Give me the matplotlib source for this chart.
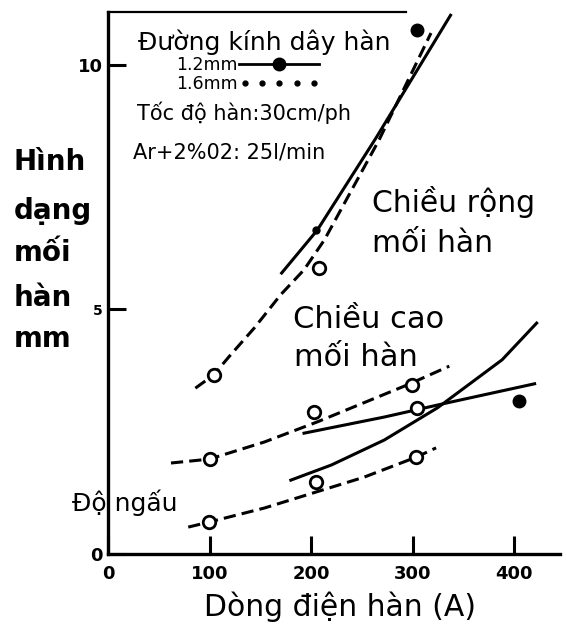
import matplotlib
matplotlib.use("Agg")
import matplotlib.pyplot as plt
from matplotlib.lines import Line2D
from matplotlib.legend_handler import HandlerLine2D

plt.rcParams['font.family'] = ['DejaVu Sans']

# ---- data (welding current A -> mm) ----
width_12_x = [170, 206, 264, 338]
width_12_y = [5.72, 6.62, 8.51, 11.04]
width_16_x = [86, 104, 119, 144, 170, 193, 213, 267, 318]
width_16_y = [3.39, 3.66, 4.03, 4.62, 5.30, 5.81, 6.42, 8.47, 10.65]

height_12_x = [193, 272, 334, 420]
height_12_y = [2.47, 2.80, 3.09, 3.48]
height_16_x = [62, 100, 154, 206, 295, 336]
height_16_y = [1.86, 1.94, 2.29, 2.70, 3.46, 3.84]

depth_12_x = [180, 220, 272, 324.5, 388, 422]
depth_12_y = [1.51, 1.82, 2.33, 2.99, 3.97, 4.72]
depth_16_x = [79, 99, 154, 252, 303.5, 323]
depth_16_y = [0.55, 0.65, 0.94, 1.57, 1.98, 2.17]

open_pts_x = [104, 208, 100, 203, 299.5, 304.5, 99, 205, 303.5]
open_pts_y = [3.66, 5.85, 1.94, 2.90, 3.46, 2.98, 0.65, 1.47, 1.98]
filled_pts_x = [304.5, 405]
filled_pts_y = [10.72, 3.13]
small_filled_x = [205]
small_filled_y = [6.63]

x_ticks = [0, 100, 200, 300, 400]
y_ticks = [0, 5, 10]

W, H = 567, 625
fig = plt.figure(figsize=(W / 100, H / 100), dpi=100)
ax = fig.add_axes([108 / W, 71 / H, (560 - 108) / W, 542 / H])
ax.set_xlim(0, 445)
ax.set_ylim(0, 11.08)

LW = 2.2
dash = (4, 2)
ax.plot(width_12_x, width_12_y, color='k', lw=LW, solid_capstyle='butt')
ax.plot(width_16_x, width_16_y, color='k', lw=LW, linestyle=(0, dash))
ax.plot(height_12_x, height_12_y, color='k', lw=LW)
ax.plot(height_16_x, height_16_y, color='k', lw=LW, linestyle=(0, dash))
ax.plot(depth_12_x, depth_12_y, color='k', lw=LW)
ax.plot(depth_16_x, depth_16_y, color='k', lw=LW, linestyle=(0, dash))

ax.plot(open_pts_x, open_pts_y, linestyle='none', marker='o', markersize=9,
        markerfacecolor='white', markeredgecolor='k', markeredgewidth=2)
ax.plot(filled_pts_x, filled_pts_y, linestyle='none', marker='o', markersize=9,
        color='k')
ax.plot(small_filled_x, small_filled_y, linestyle='none', marker='o', markersize=5,
        color='k')

# spines
ax.spines['right'].set_visible(False)
ax.spines['left'].set_linewidth(2.4)
ax.spines['bottom'].set_linewidth(2.4)
ax.spines['top'].set_linewidth(1.6)
ax.spines['top'].set_bounds(0, 293)

ax.set_xticks(x_ticks)
ax.set_yticks(y_ticks)
ax.set_xticklabels([str(v) for v in x_ticks], fontsize=13, fontweight='bold')
ax.set_yticklabels([str(v) for v in y_ticks], fontsize=13, fontweight='bold')
ax.tick_params(axis='both', direction='in', length=13, width=2.2, pad=4)
ax.tick_params(axis='x', pad=8)
ax.get_yticklabels()[1].set_fontsize(10)


def px(x, y):
    return x / W, 1 - y / H

# y-axis label, one word per line
for word, yy in [("Hình", 162), ("dạng", 211), ("mối", 253), ("hàn", 298), ("mm", 339)]:
    fig.text(*px(14, yy), word, fontsize=20, fontweight='bold', ha='left', va='center')

fig.text(*px(340, 607), "Dòng điện hàn (A)", fontsize=21.5, ha='center', va='center')

fig.text(*px(372, 202), "Chiều rộng", fontsize=21.5, ha='left', va='center')
fig.text(*px(372, 243), "mối hàn", fontsize=21.5, ha='left', va='center')
fig.text(*px(293, 320), "Chiều cao", fontsize=22, ha='left', va='center')
fig.text(*px(294, 358), "mối hàn", fontsize=22, ha='left', va='center')
fig.text(*px(72, 503), "Độ ngấu", fontsize=18, ha='left', va='center')

fig.text(*px(138, 42), "Đường kính dây hàn", fontsize=18, ha='left', va='center')
fig.text(*px(137, 113), "Tốc độ hàn:30cm/ph", fontsize=15, ha='left', va='center')
fig.text(*px(133, 153), "Ar+2%02: 25l/min", fontsize=15, ha='left', va='center')

h12 = Line2D([], [], color='k', lw=2, marker='o', markersize=9)
h16 = Line2D([], [], color='k', linestyle='none', marker='o', markersize=3.5)
leg = ax.legend([h12, h16], ["1.2mm", "1.6mm"], loc='upper left',
                bbox_to_anchor=(176 / W, 1 - 56 / H), bbox_transform=fig.transFigure,
                frameon=False, markerfirst=False, handlelength=4.6,
                handletextpad=0.1, labelspacing=0.05, fontsize=12.5,
                borderpad=0, borderaxespad=0,
                handler_map={h12: HandlerLine2D(numpoints=1),
                             h16: HandlerLine2D(numpoints=5)})

fig.savefig("out.png", dpi=100)
